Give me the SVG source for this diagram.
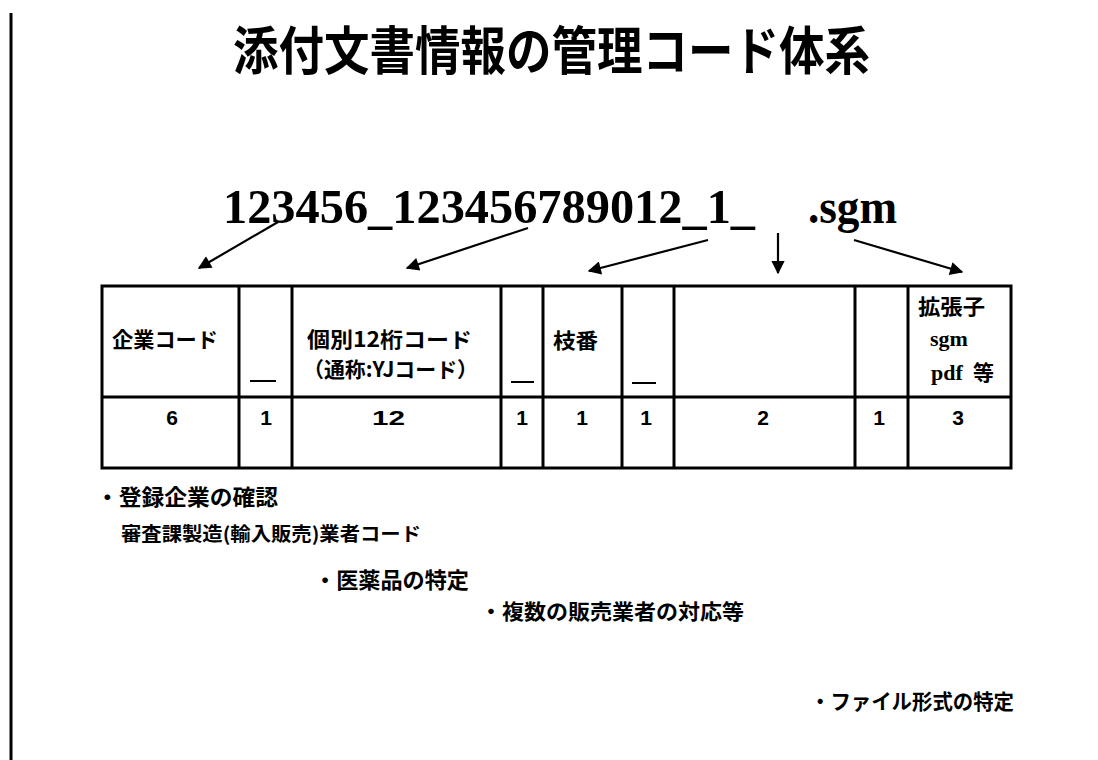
<svg xmlns="http://www.w3.org/2000/svg" width="1098" height="760" viewBox="0 0 1098 760">
<style>
.jp{font-family:"Noto Sans CJK JP","Noto Sans CJK SC",sans-serif;font-weight:bold;fill:#000}
.cell{font-size:21px}
.num{font-family:"Liberation Sans",Arial,sans-serif;font-weight:bold;font-size:21px;fill:#000}
.ser{font-family:"Liberation Serif","Times New Roman",serif;font-weight:bold;fill:#000}
.grid{stroke:#000;stroke-width:3;fill:none}
.arrow{stroke:#000;stroke-width:2.2;fill:none;marker-end:url(#ah)}
.sep{stroke:#000;stroke-width:2}
</style>
<defs>
<marker id="ah" viewBox="0 0 10 10" refX="9" refY="5" markerWidth="7" markerHeight="6" orient="auto" markerUnits="strokeWidth">
<path d="M0,0 L10,5 L0,10 z" fill="#000"/>
</marker>
</defs>
<rect x="0" y="0" width="1098" height="760" fill="#fff"/>
<line x1="11" y1="13" x2="11" y2="760" stroke="#000" stroke-width="3"/>

<g id="title">
<text class="jp" x="233" y="70" font-size="52" textLength="637" lengthAdjust="spacingAndGlyphs">添付文書情報の管理コード体系</text>
</g>

<g id="filename">
<text class="ser" x="223" y="223" font-size="48" textLength="532" lengthAdjust="spacingAndGlyphs">123456_123456789012_1_</text>
<text class="ser" x="808" y="223" font-size="48" textLength="89" lengthAdjust="spacingAndGlyphs">.sgm</text>
</g>

<g id="connectors">
<line class="arrow" x1="278" y1="222" x2="199" y2="268"/>
<line class="arrow" x1="528" y1="228" x2="407" y2="268"/>
<line class="arrow" x1="708" y1="240" x2="589" y2="271"/>
<line class="arrow" x1="778" y1="233" x2="778" y2="273"/>
<line class="arrow" x1="854" y1="240" x2="962" y2="272"/>
</g>

<g id="table">
<rect class="grid" x="102" y="286" width="909" height="182"/>
<line class="grid" x1="102" y1="397" x2="1011" y2="397"/>
<line class="grid" x1="239" y1="286" x2="239" y2="468"/>
<line class="grid" x1="292" y1="286" x2="292" y2="468"/>
<line class="grid" x1="501" y1="286" x2="501" y2="468"/>
<line class="grid" x1="543" y1="286" x2="543" y2="468"/>
<line class="grid" x1="622" y1="286" x2="622" y2="468"/>
<line class="grid" x1="674" y1="286" x2="674" y2="468"/>
<line class="grid" x1="855" y1="286" x2="855" y2="468"/>
<line class="grid" x1="908" y1="286" x2="908" y2="468"/>
</g>

<g id="cell-company">
<text class="jp cell" x="112" y="347" textLength="106" lengthAdjust="spacingAndGlyphs">企業コード</text>
<text class="num" x="172" y="425" text-anchor="middle">6</text>
</g>
<g id="cell-sep1">
<line class="sep" x1="250" y1="381" x2="276" y2="381"/>
<text class="num" x="266" y="425" text-anchor="middle">1</text>
</g>
<g id="cell-yj">
<text class="jp cell" x="307" y="347" textLength="165" lengthAdjust="spacingAndGlyphs">個別12桁コード</text>
<text class="jp cell" x="303" y="377" textLength="175" lengthAdjust="spacingAndGlyphs">（通称:YJコード）</text>
<text class="num" x="372" y="425" textLength="33" lengthAdjust="spacingAndGlyphs">12</text>
</g>
<g id="cell-sep2">
<line class="sep" x1="511" y1="382" x2="534" y2="382"/>
<text class="num" x="522" y="425" text-anchor="middle">1</text>
</g>
<g id="cell-branch">
<text class="jp cell" x="553" y="348" textLength="45" lengthAdjust="spacingAndGlyphs">枝番</text>
<text class="num" x="582" y="425" text-anchor="middle">1</text>
</g>
<g id="cell-sep3">
<line class="sep" x1="632" y1="383" x2="656" y2="383"/>
<text class="num" x="646" y="425" text-anchor="middle">1</text>
</g>
<g id="cell-blank">
<text class="num" x="763" y="425" text-anchor="middle">2</text>
</g>
<g id="cell-sep4">
<text class="num" x="879" y="425" text-anchor="middle">1</text>
</g>
<g id="cell-ext">
<text class="jp cell" x="918" y="314" textLength="67" lengthAdjust="spacingAndGlyphs">拡張子</text>
<text class="ser" x="930" y="346" font-size="22">sgm</text>
<text class="ser" x="931" y="380" font-size="22">pdf</text>
<text class="jp cell" x="973" y="380">等</text>
<text class="num" x="958" y="425" text-anchor="middle">3</text>
</g>

<g id="notes">
<text class="jp" x="96" y="505" font-size="22" textLength="182" lengthAdjust="spacingAndGlyphs">・登録企業の確認</text>
<text class="jp" x="121" y="541" font-size="19" textLength="300" lengthAdjust="spacingAndGlyphs">審査課製造(輸入販売)業者コード</text>
<text class="jp" x="314" y="588" font-size="22" textLength="155" lengthAdjust="spacingAndGlyphs">・医薬品の特定</text>
<text class="jp" x="480" y="619" font-size="21" textLength="264" lengthAdjust="spacingAndGlyphs">・複数の販売業者の対応等</text>
<text class="jp" x="810" y="709" font-size="21" textLength="204" lengthAdjust="spacingAndGlyphs">・ファイル形式の特定</text>
</g>
</svg>
